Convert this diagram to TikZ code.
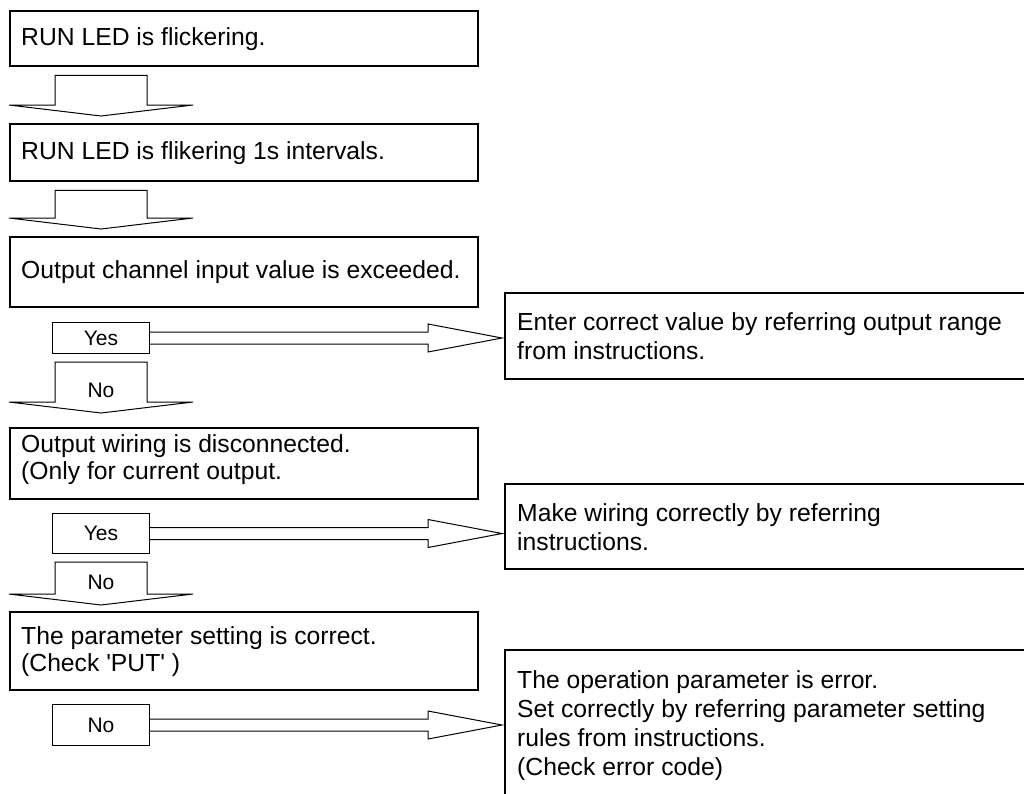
\documentclass[tikz,border=0pt]{standalone}
\usepackage{fontspec}
\setmainfont{Liberation Sans}
\usetikzlibrary{calc}
\begin{document}
\begin{tikzpicture}[x=1pt, y=-1pt, line width=1pt,
  box/.style={draw, line width=2.4pt, anchor=north west, text width=446pt, inner xsep=11pt, inner ysep=0pt, align=flush left, font=\fontsize{24.7}{27}\selectfont},
  rbox/.style={box, text width=576pt, inner xsep=12pt, font=\fontsize{24.7}{29}\selectfont},
  ybox/.style={draw, line width=1pt, anchor=north west, minimum width=97pt, inner sep=0pt, font=\fontsize{21}{24}\selectfont},
  fat/.style={line width=1pt, line join=miter}]
  \useasboundingbox (0,0) rectangle (1024,793);
  \clip (0,0) rectangle (1024,793);
  \node[box, minimum height=55pt] (b1) at (9,10) {RUN LED is flickering.};
  \node[box, minimum height=57pt] (b2) at (9,123) {RUN LED is flikering 1s intervals.};
  \node[box, minimum height=70pt] (b3) at (9,236) {Output channel input value is exceeded.};
  \node[box, minimum height=71pt, text height=18pt, text depth=41pt] (b4) at (9,427) {Output wiring is disconnected.\\(Only for current output.};
  \node[box, minimum height=78pt] (b5) at (9,611) {The parameter setting is correct.\\(Check \textquotesingle PUT\textquotesingle{} )};
  \node[rbox, minimum height=86pt] (r1) at (504,292) {Enter correct value by referring output range\\from instructions.};
  \node[rbox, minimum height=85pt] (r2) at (504,483) {Make wiring correctly by referring\\instructions.};
  \node[rbox, minimum height=151pt] (r3) at (504,649) {The operation parameter is error.\\Set correctly by referring parameter setting\\rules from instructions.\\(Check error code)};
  \node[ybox, minimum height=31pt] (y1) at (52,322) {Yes};
  \node[ybox, minimum height=40pt] (y2) at (52,513) {Yes};
  \node[ybox, minimum height=41pt] (y3) at (52,704) {No};
  \foreach \u/\l/\g in {b1/b2/7, b2/b3/7, y1/b4/14, y2/b5/6}
    \draw[fat] ($(\l.north west |- \u.south)+(46,8)$) -- ++(92,0) -- ($(\l.north west)+(138,-11-\g)$) -- ++(46,0)
      -- ($(\l.north west)+(92,-\g)$) -- ($(\l.north west)+(0,-11-\g)$) -- ++(46,0) -- cycle;
  \node[font=\fontsize{21}{24}\selectfont] (n1) at ($(b4.north west)+(92,-37)$) {No};
  \node[font=\fontsize{21}{24}\selectfont] (n2) at ($(b5.north west)+(92,-29)$) {No};
  \foreach \a/\b in {y1/r1, y2/r2, y3/r3}
    \draw[fat] ($(\a.east)+(0,-6)$) -- ($(\b.west |- \a.east)+(-76,-6)$) -- ++(0,-8) -- ($(\b.west |- \a.east)+(-2,0)$)
      -- ($(\b.west |- \a.east)+(-76,14)$) -- ++(0,-8) -- ($(\a.east)+(0,6)$);
\end{tikzpicture}
\end{document}
